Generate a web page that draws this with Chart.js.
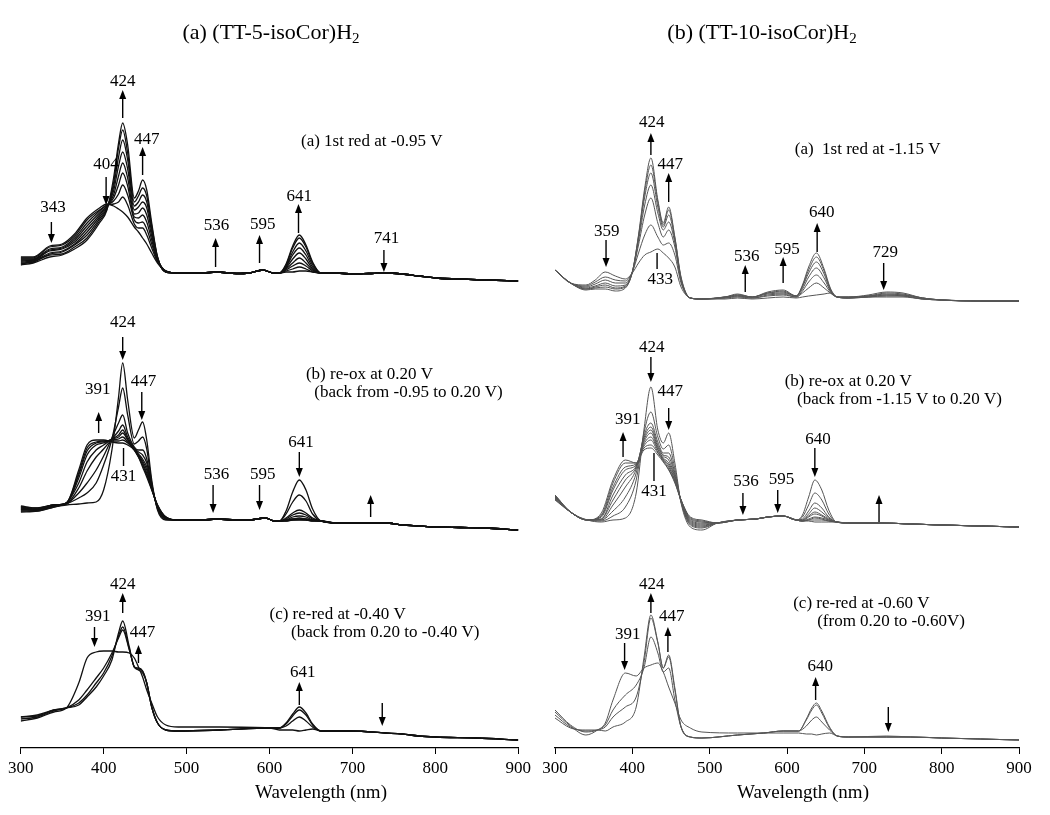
<!DOCTYPE html>
<html>
<head>
<meta charset="utf-8">
<script src="https://cdn.jsdelivr.net/npm/chart.js@4.4.1/dist/chart.umd.min.js"></script>
<style>
  body { margin: 0; background: #fff; }
  #wrap { position: relative; width: 1050px; height: 815px; font-family: "Liberation Serif", "Times New Roman", serif; color: #000; }
  canvas { position: absolute; top: 0; }
  .title { position: absolute; top: 19px; font-size: 22px; line-height: 26px; white-space: nowrap; transform: translateX(-50%); }
  .title sub { font-size: 15px; vertical-align: -4px; line-height: 0; }
  .xlab { position: absolute; top: 781px; font-size: 19px; line-height: 22px; white-space: nowrap; transform: translateX(-50%); }
</style>
</head>
<body>
<div id="wrap">
  <canvas id="left" width="535" height="815" style="left:0"></canvas>
  <canvas id="right" width="515" height="815" style="left:535px"></canvas>
  <div class="title" style="left:271px">(a) (TT-5-isoCor)H<sub>2</sub></div>
  <div class="title" style="left:762px">(b) (TT-10-isoCor)H<sub>2</sub></div>
  <div class="xlab" style="left:321px">Wavelength (nm)</div>
  <div class="xlab" style="left:803px">Wavelength (nm)</div>
</div>
<script>
// ---------- (TT-5-isoCor)H2, trace (a): 1st red at -0.95 V ----------
const LA_HEAD_WL = [300, 315, 335, 350, 365, 380, 395, 404, 412, 418, 423, 429, 437, 442, 447, 452, 458, 465, 475];
const LA_HEAD = [
  [.33, .33, .44, .46, .56, .72, .82, .86, .84, .81, .78, .73, .63, .58, .52, .46, .37, .27, .19],
  [.32, .32, .43, .45, .54, .70, .80, .85, .86, .88, .93, .85, .66, .62, .62, .55, .42, .28, .19],
  [.31, .31, .41, .43, .52, .67, .79, .85, .89, .96, 1.05, .95, .70, .67, .68, .61, .46, .29, .19],
  [.30, .30, .40, .42, .50, .64, .77, .84, .92, 1.05, 1.17, 1.04, .73, .72, .75, .68, .50, .30, .19],
  [.29, .30, .39, .41, .48, .61, .75, .84, .95, 1.14, 1.27, 1.12, .76, .77, .82, .75, .54, .31, .19],
  [.28, .29, .37, .39, .46, .58, .73, .83, .99, 1.24, 1.38, 1.21, .80, .83, .88, .82, .58, .31, .18],
  [.27, .28, .36, .38, .45, .55, .71, .82, 1.03, 1.33, 1.50, 1.30, .84, .88, .95, .88, .61, .32, .18],
  [.26, .28, .35, .36, .43, .52, .69, .81, 1.07, 1.42, 1.60, 1.37, .88, .94, 1.02, .94, .64, .33, .18],
  [.25, .27, .33, .35, .41, .50, .67, .80, 1.12, 1.47, 1.67, 1.45, .92, .99, 1.10, 1.00, .67, .33, .18]
];
const LA_MID_WL = [490, 520, 536, 560, 575, 592, 605];
const LA_MID = [.17, .17, .18, .165, .17, .20, .17];
const LA_PEAK_WL = [612, 620, 628, 636, 644, 652, 662];
const LA_PEAK = [
  [.17, .18, .18, .19, .19, .18, .17],
  [.17, .19, .21, .23, .21, .18, .17],
  [.17, .20, .24, .27, .24, .19, .17],
  [.17, .21, .27, .32, .27, .20, .17],
  [.17, .22, .31, .37, .31, .21, .17],
  [.17, .23, .35, .42, .35, .23, .17],
  [.17, .24, .38, .47, .39, .25, .17],
  [.17, .25, .42, .52, .43, .27, .17],
  [.17, .26, .44, .55, .45, .28, .17]
];
const LA_TAIL_WL = [680, 700, 720, 740, 760, 780, 800, 830, 860, 900];
const LA_TAIL = [.17, .16, .165, .17, .16, .14, .12, .11, .10, .09];

// ---------- (TT-5-isoCor)H2, trace (b): re-ox at 0.20 V ----------
const LB_HEAD_WL = [300, 320, 340, 355, 370, 380, 391, 400, 410, 418, 423, 429, 437, 442, 447, 452, 458, 465, 475];
const LB_HEAD = [
  [.23, .24, .28, .30, .31, .32, .33, .45, .85, 1.38, 1.72, 1.35, .97, 1.05, 1.13, .95, .55, .25, .15],
  [.24, .24, .28, .31, .37, .42, .52, .70, .96, 1.28, 1.47, 1.20, .91, .94, .98, .86, .52, .26, .16],
  [.25, .25, .29, .31, .42, .52, .65, .79, .97, 1.12, 1.20, 1.02, .88, .85, .85, .76, .50, .27, .16],
  [.26, .25, .29, .31, .47, .64, .78, .86, .96, 1.04, 1.10, .98, .87, .83, .80, .72, .49, .28, .17],
  [.26, .25, .29, .32, .52, .73, .85, .90, .96, 1.00, 1.05, .96, .86, .81, .76, .68, .48, .28, .17],
  [.27, .26, .30, .32, .57, .80, .90, .92, .96, .98, 1.02, .95, .86, .80, .74, .65, .47, .29, .17],
  [.28, .26, .30, .32, .60, .84, .92, .93, .95, .96, .98, .93, .86, .79, .72, .62, .46, .29, .18],
  [.28, .27, .30, .32, .62, .87, .93, .94, .94, .94, .95, .92, .85, .78, .70, .60, .46, .30, .18],
  [.29, .27, .30, .32, .65, .90, .95, .95, .93, .92, .92, .90, .85, .78, .68, .58, .45, .30, .18]
];
const LB_MID_WL = [490, 520, 536, 560, 575, 595, 606];
const LB_MID = [.15, .15, .16, .15, .15, .17, .14];
const LB_PEAK_WL = [612, 620, 628, 636, 644, 652, 662];
const LB_PEAK = [
  [.14, .24, .43, .55, .45, .26, .14],
  [.14, .21, .33, .40, .34, .21, .14],
  [.14, .17, .22, .25, .22, .17, .14],
  [.14, .16, .20, .22, .20, .16, .14],
  [.14, .15, .18, .19, .18, .15, .14],
  [.14, .15, .16, .17, .16, .15, .14],
  [.14, .15, .16, .16, .16, .15, .14],
  [.14, .14, .15, .155, .15, .14, .14],
  [.14, .14, .15, .15, .15, .14, .14]
];
const LB_TAIL_WL = [680, 700, 720, 740, 760, 780, 800, 830, 860, 900];
const LB_TAIL = [.12, .12, .12, .12, .10, .09, .08, .075, .07, .05];

// ---------- (TT-5-isoCor)H2, trace (c): re-red at -0.40 V ----------
const LC_WL = [300, 320, 340, 355, 370, 380, 391, 400, 410, 418, 423, 431, 437, 442, 447, 452, 458, 465, 475,
               490, 540, 600, 612, 620, 628, 636, 644, 652, 662];
const LC_CURVES = [
  [.27, .30, .36, .40, .65, .90, .96, .97, .97, .96, .96, .95, .90, .81, .71, .58, .45, .31, .23,
   .21, .21, .20, .18, .18, .18, .17, .18, .19, .17],
  [.29, .31, .37, .40, .48, .58, .70, .80, .95, 1.10, 1.18, .98, .81, .78, .75, .65, .41, .25, .18,
   .17, .18, .20, .20, .22, .27, .31, .27, .21, .17],
  [.31, .32, .38, .40, .45, .53, .65, .75, .92, 1.12, 1.21, .99, .81, .79, .77, .65, .41, .25, .18,
   .17, .18, .20, .20, .24, .32, .38, .33, .23, .17],
  [.31, .33, .38, .40, .43, .51, .61, .72, .88, 1.15, 1.27, 1.01, .81, .80, .77, .65, .41, .25, .18,
   .17, .18, .20, .20, .25, .34, .41, .35, .24, .17]
];
const LC_TAIL_WL = [680, 700, 740, 760, 780, 800, 850, 900];
const LC_TAIL = [.17, .17, .15, .14, .12, .11, .10, .08];

// ---------- (TT-10-isoCor)H2, trace (a): 1st red at -1.15 V ----------
const RA_WL = [300, 320, 340, 352, 365, 378, 391, 400, 408, 416, 424, 433, 440, 447, 455, 463, 475,
               490, 520, 536, 555, 575, 595, 612, 620, 628, 638, 648, 656, 665,
               680, 705, 729, 750, 775, 800, 850, 900];
const RA_CURVES = [
  [.35, .22, .20, .25, .33, .29, .26, .32, .42, .50, .53, .56, .52, .47, .38, .18, .07,
   .06, .06, .07, .06, .07, .08, .07, .08, .09, .10, .11, .12, .08, .08, .10, .13, .12, .07, .05, .04, .04],
  [.35, .22, .19, .23, .28, .25, .24, .33, .52, .70, .80, .68, .60, .62, .50, .22, .07,
   .06, .07, .08, .07, .09, .10, .08, .12, .17, .22, .17, .12, .08, .08, .09, .12, .11, .07, .05, .04, .04],
  [.35, .22, .18, .21, .25, .22, .22, .33, .60, .90, 1.07, .82, .68, .75, .58, .24, .07,
   .06, .07, .09, .07, .10, .11, .08, .14, .23, .30, .22, .13, .08, .08, .09, .11, .10, .07, .05, .04, .04],
  [.35, .22, .17, .19, .22, .19, .20, .33, .64, 1.00, 1.20, .92, .75, .83, .62, .25, .07,
   .06, .08, .09, .08, .11, .12, .09, .16, .28, .37, .27, .14, .08, .07, .09, .10, .10, .07, .05, .04, .04],
  [.35, .22, .16, .18, .20, .17, .19, .33, .67, 1.08, 1.32, .98, .78, .90, .65, .26, .07,
   .06, .08, .10, .08, .12, .13, .09, .18, .32, .43, .31, .15, .08, .07, .08, .10, .09, .06, .05, .04, .04],
  [.35, .22, .16, .17, .18, .16, .18, .33, .69, 1.13, 1.40, 1.03, .80, .95, .67, .27, .07,
   .06, .08, .10, .08, .12, .14, .09, .19, .35, .48, .34, .16, .08, .07, .08, .09, .09, .06, .05, .04, .04],
  [.35, .22, .15, .16, .16, .14, .17, .33, .70, 1.17, 1.47, 1.05, .82, .98, .68, .28, .07,
   .06, .08, .11, .08, .13, .15, .09, .20, .38, .52, .36, .17, .08, .07, .08, .08, .08, .06, .05, .04, .04]
];

// ---------- (TT-10-isoCor)H2, trace (b): re-ox at 0.20 V ----------
const RB_HEAD_WL = [300, 320, 342, 360, 375, 391, 405, 415, 424, 433, 440, 447, 455, 463, 475, 490];
const RB_HEAD = [
  [.40, .23, .15, .13, .15, .17, .42, 1.05, 1.48, 1.05, .92, 1.02, .72, .32, .08, .05],
  [.40, .23, .15, .14, .19, .28, .55, 1.02, 1.23, .98, .86, .90, .66, .33, .10, .07],
  [.39, .23, .15, .15, .24, .38, .62, .99, 1.12, .93, .82, .82, .62, .33, .11, .08],
  [.39, .23, .15, .15, .30, .48, .66, .97, 1.08, .90, .80, .78, .60, .34, .12, .09],
  [.38, .23, .15, .16, .35, .55, .68, .95, 1.05, .88, .79, .75, .58, .34, .13, .10],
  [.38, .23, .15, .16, .40, .60, .69, .93, 1.02, .86, .77, .72, .57, .34, .14, .11],
  [.37, .23, .15, .18, .45, .65, .70, .91, .98, .85, .76, .70, .55, .35, .15, .12],
  [.36, .23, .15, .19, .48, .68, .71, .89, .95, .83, .75, .68, .54, .35, .16, .13],
  [.36, .23, .15, .20, .52, .72, .72, .87, .90, .82, .74, .66, .53, .35, .17, .14],
  [.35, .23, .15, .22, .55, .75, .72, .85, .87, .80, .73, .65, .52, .35, .18, .15]
];
const RB_MID_WL = [510, 536, 560, 575, 595, 612];
const RB_MID = [.12, .15, .16, .18, .19, .15];
const RB_PEAK_WL = [620, 628, 636, 645, 654, 664];
const RB_PEAK = [
  [.20, .38, .55, .45, .25, .13],
  [.18, .30, .42, .35, .21, .13],
  [.16, .24, .32, .27, .18, .13],
  [.15, .21, .27, .23, .17, .13],
  [.15, .19, .23, .20, .16, .13],
  [.14, .18, .21, .19, .15, .13],
  [.14, .16, .18, .17, .15, .13],
  [.14, .15, .17, .16, .14, .13],
  [.14, .15, .15, .15, .14, .13],
  [.14, .14, .13, .13, .13, .13]
];
const RB_TAIL_WL = [680, 720, 760, 800, 850, 900];
const RB_TAIL = [.12, .12, .11, .10, .09, .08];

// ---------- (TT-10-isoCor)H2, trace (c): re-red at -0.60 V ----------
const RC_WL = [300, 320, 340, 355, 365, 375, 391, 405, 415, 424, 433, 440, 447, 455, 463, 475, 490,
               536, 570, 595, 615, 625, 632, 638, 645, 655, 665, 680, 729, 760, 800, 850, 900];
const RC_CURVES = [
  [.36, .22, .13, .18, .25, .48, .75, .72, .80, .83, .85, .76, .61, .45, .28, .20, .16,
   .15, .15, .15, .15, .14, .14, .13, .14, .15, .12, .11, .12, .11, .10, .09, .08],
  [.38, .23, .16, .18, .23, .38, .53, .63, .80, 1.11, .95, .76, .80, .48, .21, .11, .10,
   .13, .15, .17, .17, .22, .28, .31, .26, .18, .12, .11, .11, .11, .10, .09, .08],
  [.33, .21, .17, .18, .21, .31, .41, .51, .85, 1.30, 1.05, .80, .91, .58, .21, .11, .10,
   .13, .15, .17, .17, .28, .38, .43, .35, .20, .12, .11, .11, .11, .10, .09, .08],
  [.30, .20, .18, .18, .17, .21, .26, .41, .90, 1.33, 1.06, .80, .93, .60, .21, .11, .10,
   .13, .15, .17, .17, .29, .40, .45, .37, .21, .12, .11, .11, .11, .10, .09, .08]
];

// vertical stacking of the three traces in each panel
const LEFT_OFFSETS = { a: 4.58, b: 2.13, c: 0 };
const RIGHT_OFFSETS = { a: 4.43, b: 2.13, c: 0 };

// arrows / labels: t = text, lx/ly = label position, ax = arrow wavelength, y1 = tail, y2 = tip
const LEFT_MARKS = [
  { t: '343', lx: 339, ly: 5.40, ax: 337, y1: 5.26, y2: 5.05 },
  { t: '404', lx: 403, ly: 5.83, ax: 403, y1: 5.71, y2: 5.43 },
  { t: '424', lx: 423, ly: 6.66, ax: 423, y1: 6.30, y2: 6.58 },
  { t: '447', lx: 452, ly: 6.08, ax: 447, y1: 5.73, y2: 6.01 },
  { t: '536', lx: 536, ly: 5.22, ax: 535, y1: 4.81, y2: 5.10 },
  { t: '595', lx: 592, ly: 5.23, ax: 588, y1: 4.85, y2: 5.13 },
  { t: '641', lx: 636, ly: 5.51, ax: 635, y1: 5.15, y2: 5.44 },
  { t: '741', lx: 741, ly: 5.09, ax: 738, y1: 4.98, y2: 4.76 },
  { t: '424', lx: 423, ly: 4.25, ax: 423, y1: 4.11, y2: 3.88 },
  { t: '391', lx: 393, ly: 3.58, ax: 394, y1: 3.15, y2: 3.36 },
  { t: '431', lx: 424, ly: 2.71, ax: 424, y1: 3.00, y2: 2.82, bar: true },
  { t: '447', lx: 448, ly: 3.66, ax: 446, y1: 3.56, y2: 3.28 },
  { t: '536', lx: 536, ly: 2.73, ax: 532, y1: 2.63, y2: 2.35 },
  { t: '595', lx: 592, ly: 2.73, ax: 588, y1: 2.63, y2: 2.38 },
  { t: '641', lx: 638, ly: 3.05, ax: 636, y1: 2.96, y2: 2.71 },
  { t: '', ax: 722, y1: 2.31, y2: 2.53 },
  { t: '424', lx: 423, ly: 1.63, ax: 423, y1: 1.35, y2: 1.55 },
  { t: '391', lx: 393, ly: 1.31, ax: 389, y1: 1.21, y2: 1.01 },
  { t: '447', lx: 447, ly: 1.15, ax: 442, y1: 0.85, y2: 1.03 },
  { t: '641', lx: 640, ly: 0.75, ax: 636, y1: 0.43, y2: 0.66 },
  { t: '', ax: 736, y1: 0.45, y2: 0.22 }
];
const LEFT_NOTES = [
  { t: '(a) 1st red at -0.95 V', x: 638, y: 6.06 },
  { t: '(b) re-ox at 0.20 V', x: 644, y: 3.73 },
  { t: '(back from -0.95 to 0.20 V)', x: 654, y: 3.55 },
  { t: '(c) re-red at -0.40 V', x: 600, y: 1.33 },
  { t: '(back from 0.20 to -0.40 V)', x: 626, y: 1.15 }
];
const RIGHT_MARKS = [
  { t: '359', lx: 367, ly: 5.16, ax: 366, y1: 5.08, y2: 4.81 },
  { t: '424', lx: 425, ly: 6.25, ax: 424, y1: 5.93, y2: 6.15 },
  { t: '447', lx: 449, ly: 5.83, ax: 447, y1: 5.46, y2: 5.75 },
  { t: '433', lx: 436, ly: 4.68, ax: 432, y1: 4.95, y2: 4.79, bar: true },
  { t: '536', lx: 548, ly: 4.91, ax: 546, y1: 4.56, y2: 4.83 },
  { t: '595', lx: 600, ly: 4.98, ax: 595, y1: 4.65, y2: 4.91 },
  { t: '640', lx: 645, ly: 5.35, ax: 639, y1: 4.96, y2: 5.25 },
  { t: '729', lx: 727, ly: 4.95, ax: 725, y1: 4.85, y2: 4.58 },
  { t: '424', lx: 425, ly: 4.00, ax: 424, y1: 3.91, y2: 3.66 },
  { t: '447', lx: 449, ly: 3.56, ax: 447, y1: 3.40, y2: 3.18 },
  { t: '391', lx: 394, ly: 3.28, ax: 388, y1: 2.91, y2: 3.16 },
  { t: '431', lx: 428, ly: 2.56, ax: 428, y1: 2.95, y2: 2.67, bar: true },
  { t: '536', lx: 547, ly: 2.66, ax: 543, y1: 2.55, y2: 2.33 },
  { t: '595', lx: 593, ly: 2.68, ax: 588, y1: 2.58, y2: 2.35 },
  { t: '640', lx: 640, ly: 3.08, ax: 636, y1: 3.00, y2: 2.71 },
  { t: '', ax: 719, y1: 2.26, y2: 2.53 },
  { t: '424', lx: 425, ly: 1.63, ax: 424, y1: 1.35, y2: 1.55 },
  { t: '391', lx: 394, ly: 1.13, ax: 390, y1: 1.05, y2: 0.78 },
  { t: '447', lx: 451, ly: 1.31, ax: 446, y1: 0.96, y2: 1.21 },
  { t: '640', lx: 643, ly: 0.81, ax: 637, y1: 0.48, y2: 0.71 },
  { t: '', ax: 731, y1: 0.41, y2: 0.16 }
];
const RIGHT_NOTES = [
  { t: '(a)  1st red at -1.15 V', x: 610, y: 5.98 },
  { t: '(b) re-ox at 0.20 V', x: 597, y: 3.66 },
  { t: '(back from -1.15 V to 0.20 V)', x: 613, y: 3.48 },
  { t: '(c) re-red at -0.60 V', x: 608, y: 1.44 },
  { t: '(from 0.20 to -0.60V)', x: 639, y: 1.26 }
];

// Build one dataset per spectrum, shifted up by the trace offset
function spectra(wl, curves, offset, color, width) {
  return curves.map(vals => ({
    data: wl.map((w, i) => ({ x: w, y: offset + vals[i] })),
    borderColor: color,
    borderWidth: width,
    fill: false
  }));
}

// Draws the arrows, peak labels and the small captions inside each panel
const annotate = {
  id: 'annotate',
  afterDatasetsDraw(chart, args, opts) {
    const { ctx, scales: { x, y } } = chart;
    ctx.save();
    ctx.fillStyle = '#000';
    ctx.strokeStyle = '#000';
    ctx.lineWidth = 1.4;
    ctx.font = '17px "Liberation Serif"';
    ctx.textAlign = 'center';
    ctx.textBaseline = 'middle';
    opts.marks.forEach(m => {
      const px = x.getPixelForValue(m.ax);
      const p1 = y.getPixelForValue(m.y1);
      const p2 = y.getPixelForValue(m.y2);
      const dir = p2 < p1 ? 1 : -1;
      const head = m.bar ? 0 : 9;
      ctx.beginPath();
      ctx.moveTo(px, p1);
      ctx.lineTo(px, p2 + dir * head * 0.5);
      ctx.stroke();
      if (!m.bar) {
        ctx.beginPath();
        ctx.moveTo(px, p2);
        ctx.lineTo(px - 3.5, p2 + dir * head);
        ctx.lineTo(px + 3.5, p2 + dir * head);
        ctx.closePath();
        ctx.fill();
      }
      if (m.t) ctx.fillText(m.t, x.getPixelForValue(m.lx), y.getPixelForValue(m.ly));
    });
    ctx.textAlign = 'left';
    opts.notes.forEach(n => ctx.fillText(n.t, x.getPixelForValue(n.x), y.getPixelForValue(n.y)));
    ctx.restore();
  }
};

function panel(id, sets, marks, notes, pad) {
  return new Chart(document.getElementById(id), {
    type: 'line',
    data: { datasets: sets },
    options: {
      responsive: false,
      animation: false,
      events: [],
      layout: { padding: pad },
      elements: {
        point: { radius: 0 },
        line: { cubicInterpolationMode: 'monotone' }
      },
      plugins: {
        legend: { display: false },
        tooltip: { enabled: false },
        annotate: { marks: marks, notes: notes }
      },
      scales: {
        x: {
          type: 'linear',
          min: 300,
          max: 900,
          ticks: { stepSize: 100, color: '#000', padding: 4, maxRotation: 0,
                   font: { family: 'Liberation Serif', size: 17 } },
          grid: { drawOnChartArea: false, drawTicks: true, tickLength: 6, color: '#000', lineWidth: 1 },
          border: { color: '#000', width: 1.2 },
          afterFit: s => { s.height = 67; }
        },
        y: { display: false, min: 0, max: 7 }
      }
    },
    plugins: [annotate]
  });
}

const leftSets = [].concat(
  spectra(LA_HEAD_WL.concat(LA_MID_WL, LA_PEAK_WL, LA_TAIL_WL),
          LA_HEAD.map((h, i) => h.concat(LA_MID, LA_PEAK[i], LA_TAIL)), LEFT_OFFSETS.a, '#111', 1.3),
  spectra(LB_HEAD_WL.concat(LB_MID_WL, LB_PEAK_WL, LB_TAIL_WL),
          LB_HEAD.map((h, i) => h.concat(LB_MID, LB_PEAK[i], LB_TAIL)), LEFT_OFFSETS.b, '#111', 1.3),
  spectra(LC_WL.concat(LC_TAIL_WL), LC_CURVES.map(c => c.concat(LC_TAIL)), LEFT_OFFSETS.c, '#111', 1.3)
);

const rightSets = [].concat(
  spectra(RA_WL, RA_CURVES, RIGHT_OFFSETS.a, '#555', 1),
  spectra(RB_HEAD_WL.concat(RB_MID_WL, RB_PEAK_WL, RB_TAIL_WL),
          RB_HEAD.map((h, i) => h.concat(RB_MID, RB_PEAK[i], RB_TAIL)), RIGHT_OFFSETS.b, '#555', 1),
  spectra(RC_WL, RC_CURVES, RIGHT_OFFSETS.c, '#555', 1)
);

panel('left', leftSets, LEFT_MARKS, LEFT_NOTES, { left: 20.7, right: 15.5, top: 48, bottom: 0 });
panel('right', rightSets, RIGHT_MARKS, RIGHT_NOTES, { left: 20, right: 31, top: 48, bottom: 0 });
</script>
</body>
</html>
